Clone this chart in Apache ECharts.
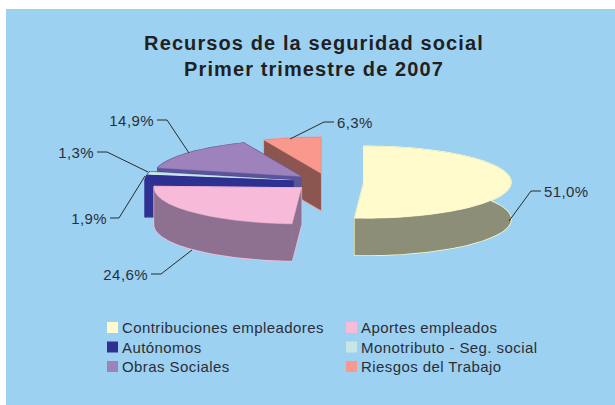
<!DOCTYPE html>
<html>
<head>
<meta charset="utf-8">
<style>
html,body{margin:0;padding:0;background:#fff}
#main{width:615px;height:405px}
/* the original text is tracked out a bit, only the svg renderer can pick this up */
#main svg text{letter-spacing:.42px}
#main svg text[style*="bold"]{letter-spacing:1.1px}
</style>
<script src="https://cdn.jsdelivr.net/npm/echarts@6/dist/echarts.min.js"></script>
</head>
<body>
<div id="main"></div>
<script>
var categories = ['Contribuciones empleadores', 'Aportes empleados', 'Autónomos', 'Monotributo - Seg. social', 'Obras Sociales', 'Riesgos del Trabajo'];
var shares = [51.0, 24.6, 1.9, 1.3, 14.9, 6.3];
var topColors = ['#FFFBCC', '#F7BBD9', '#2E3192', '#C9E6E6', '#9E82BC', '#F9988C'];
var sideColors = ['#8C8E78', '#8E7090', '#2E3192', '#2E3192', '#5C5499', '#8C5650'];
var borderColors = ['#FFFBCC', '#F7BBD9', '#2E3192', '#2E3192', '#5C5499', '#F9988C'];
// leader line for each label, text sits at the end of it
var leaders = [
    [[509, 221], [531, 191], [541, 191]],
    [[192, 250], [161, 274], [151, 274]],
    [[145, 176], [119, 218], [110, 218]],
    [[148, 172], [107, 152], [97, 152]],
    [[189, 153], [167, 120], [157, 120]],
    [[290, 139], [324, 122], [334, 122]]
];

// 3d pie geometry, the exploded centres come out of the shares
var cx = 328, cy = 182, rx = 147, ry = 36, depth = 37, explode = 36;

function startAngle(idx) {
    var sum = 0;
    for (var i = 0; i < idx; i++) sum += shares[i];
    return sum / 100 * Math.PI * 2;
}

function renderSlice(idx) {
    return function (params, api) {
        var a0 = startAngle(idx);
        var a1 = a0 + api.value(0) / 100 * Math.PI * 2;
        var mid = (a0 + a1) / 2;
        var ox = cx + explode * Math.sin(mid);
        var oy = cy - explode * Math.cos(mid) * ry / rx;
        var at = function (a, d) {
            return [ox + rx * Math.sin(a), oy - ry * Math.cos(a) + d];
        };
        var arc = [], arcLow = [];
        var n = Math.max(4, Math.ceil((a1 - a0) / 0.04));
        for (var i = 0; i <= n; i++) {
            var a = a0 + (a1 - a0) * i / n;
            arc.push(at(a, 0));
            arcLow.unshift(at(a, depth));
        }
        var walls = [
            [[ox, oy], at(a0, 0), at(a0, depth), [ox, oy + depth]],
            [[ox, oy], at(a1, 0), at(a1, depth), [ox, oy + depth]],
            arc.concat(arcLow)
        ];
        var children = [];
        walls.forEach(function (w) {
            children.push({
                type: 'polygon', shape: { points: w },
                style: { fill: 'none', stroke: borderColors[idx], lineWidth: 1.5, lineJoin: 'round' }
            });
        });
        walls.forEach(function (w) {
            children.push({
                type: 'polygon', shape: { points: w },
                style: { fill: sideColors[idx], stroke: null }
            });
        });
        children.push({
            type: 'polygon', shape: { points: [[ox, oy]].concat(arc) },
            style: { fill: topColors[idx], stroke: topColors[idx], lineWidth: 0.5, lineJoin: 'round' }
        });
        var lead = leaders[idx];
        children.push({
            type: 'polyline', z2: 100, shape: { points: lead },
            style: { fill: 'none', stroke: '#2b2b2b', lineWidth: 1 }
        });
        var end = lead[lead.length - 1];
        var toRight = lead[2][0] > lead[1][0];
        children.push({
            type: 'text', z2: 100,
            style: {
                x: end[0] + (toRight ? 3 : -3), y: end[1],
                text: api.value(0).toFixed(1).replace('.', ',') + '%',
                fill: '#2b2e38', font: '15px "Liberation Sans"',
                textAlign: toRight ? 'left' : 'right', textVerticalAlign: 'middle'
            }
        });
        return { type: 'group', children: children };
    };
}

// painter's order: back slices first
var drawOrder = [5, 4, 3, 2, 1, 0];
var series = drawOrder.map(function (idx) {
    return {
        type: 'custom',
        name: categories[idx],
        coordinateSystem: 'none',
        silent: true,
        itemStyle: { color: topColors[idx] },
        renderItem: renderSlice(idx),
        data: [[shares[idx]]]
    };
});

function legendCol(names, left) {
    return {
        data: names, left: left, top: 315, orient: 'vertical', icon: 'rect',
        itemWidth: 11, itemHeight: 11, itemGap: 4.5, itemStyle: { borderWidth: 0 }, selectedMode: false,
        textStyle: { color: '#2b2e38', fontSize: 15, fontFamily: 'Liberation Sans', padding: [0, 0, 0, -1] }
    };
}

var chart = echarts.init(document.getElementById('main'), null, { renderer: 'svg' });
chart.setOption({
    animation: false,
    backgroundColor: '#ffffff',
    graphic: [{
        type: 'rect', z: -1, silent: true,
        shape: { x: 6, y: 9, width: 609, height: 396 },
        style: { fill: '#9DD1F1' }
    }],
    title: {
        text: 'Recursos de la seguridad social\nPrimer trimestre de 2007',
        left: 309, top: 25, textAlign: 'center',
        textStyle: { color: '#231F20', fontSize: 20, fontWeight: 'bold', fontFamily: 'Liberation Sans', lineHeight: 26 }
    },
    legend: [
        legendCol([categories[0], categories[2], categories[4]], 102),
        legendCol([categories[1], categories[3], categories[5]], 341)
    ],
    series: series
});
</script>
</body>
</html>
